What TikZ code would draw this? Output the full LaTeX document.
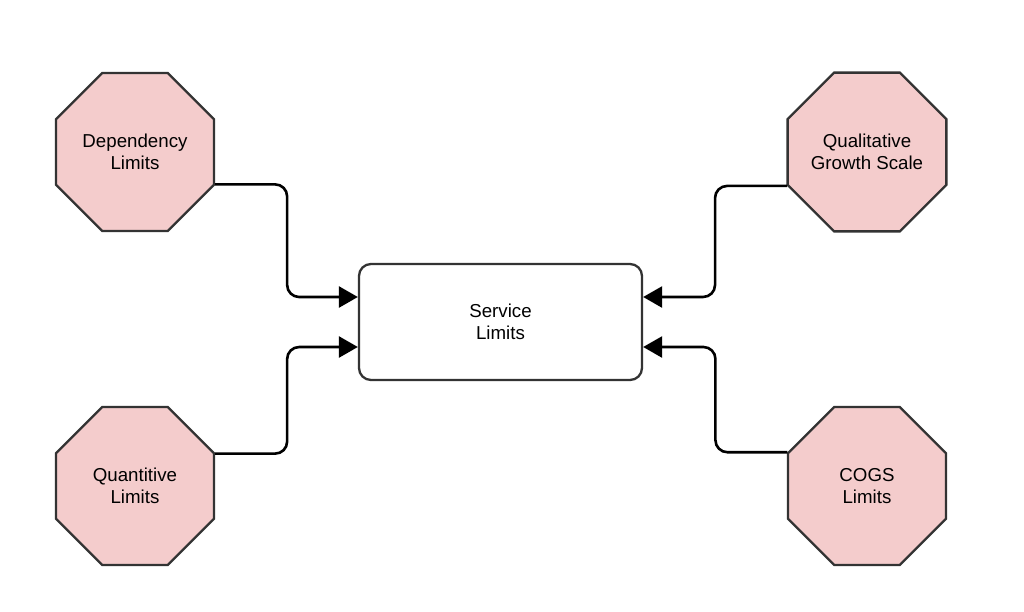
\documentclass[tikz,border=0pt]{standalone}
\usepackage{fontspec}
\setmainfont{Liberation Sans}
\usetikzlibrary{shapes.geometric,arrows.meta}
\definecolor{limitfill}{RGB}{244,204,204}
\definecolor{limitline}{RGB}{51,51,51}
\tikzset{
    limit/.style={regular polygon,regular polygon sides=8,minimum size=171pt,inner sep=0pt,
        draw=limitline,fill=limitfill,line width=2.3pt,align=center,
        font=\fontsize{18.7}{22}\selectfont},
    service/.style={rectangle,rounded corners=12pt,minimum width=283pt,minimum height=116pt,
        draw=limitline,line width=2.3pt,align=center,font=\fontsize{18.7}{22}\selectfont},
    link/.style={-{Triangle[length=19pt,width=21pt]},line width=2.6pt,rounded corners=12pt}
}
\begin{document}
\begin{tikzpicture}[x=1pt,y=-1pt]
        \useasboundingbox (0,0) rectangle (1024,611);
        \node[service] (svc) at (500.5,322) {Service\\Limits};
        \node[limit] (dep) at (135,152) {Dependency\\Limits};
        \node[limit] (quant) at (135,486) {Quantitive\\Limits};
        \node[limit] (qual) at (867,152) {Qualitative\\Growth Scale};
        \node[limit] (cogs) at (867,486) {COGS\\Limits};
        \draw[link] (dep.-22.5) -- ++(72,0) |- ([yshift=25pt]svc.west);
        \draw[link] (quant.22.5) -- ++(72,0) |- ([yshift=-25pt]svc.west);
        \draw[link] (qual.-157.5) -- ++(-72,0) |- ([yshift=25pt]svc.east);
        \draw[link] (cogs.157.5) -- ++(-72,0) |- ([yshift=-25pt]svc.east);
\end{tikzpicture}
\end{document}
